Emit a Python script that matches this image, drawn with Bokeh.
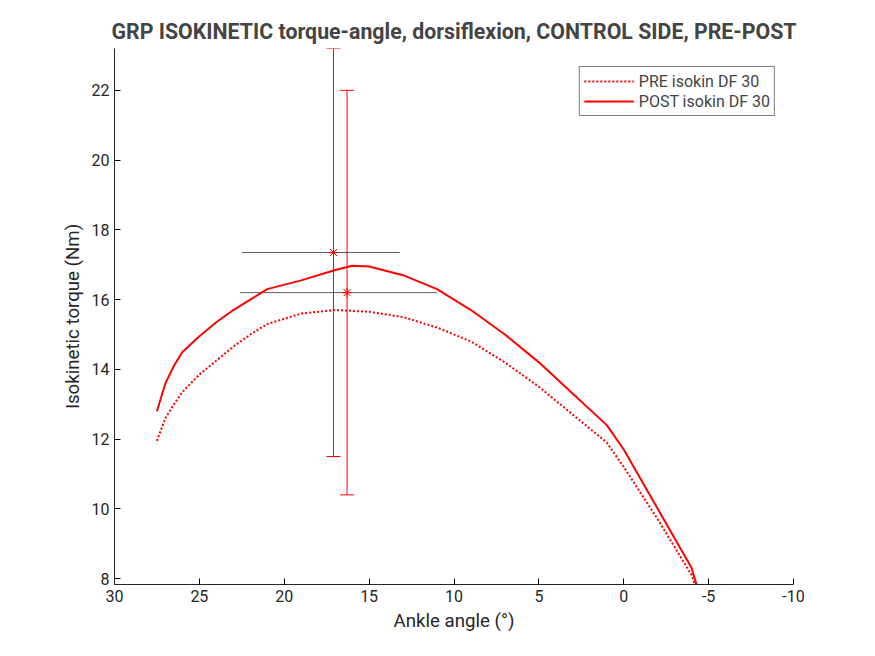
from bokeh.plotting import figure
from bokeh.models import Range1d, Whisker, ColumnDataSource, Legend, LegendItem, FixedTicker, TeeHead
from bokeh.embed import file_html
from bokeh.resources import INLINE

post_x = [27.5,27,26.5,26,25,24,23,22,21,19,17,16,15,13,11,9,7,5,3,1,0,-2,-4,-4.3]
post_y = [12.8,13.6,14.1,14.5,14.95,15.35,15.7,16.0,16.3,16.55,16.85,16.97,16.95,16.7,16.3,15.7,15.0,14.2,13.3,12.4,11.7,10.0,8.3,7.8]
pre_x = [27.5,27,26.5,26,25,24,23,22,21,19,17,15,13,11,9,7,5,3,1,0,-2,-4,-4.2]
pre_y = [11.95,12.6,13.0,13.35,13.85,14.25,14.65,15.0,15.3,15.6,15.7,15.65,15.5,15.2,14.8,14.2,13.5,12.7,11.9,11.2,9.7,8.1,7.8]
mx = [17.1, 16.3]
my = [17.35, 16.2]
y_lo = [11.5, 10.4]
y_hi = [23.2, 22.0]
x_lo = [22.5, 22.6]
x_hi = [13.2, 11.0]

p = figure(width=859, height=640, output_backend="svg", toolbar_location=None,
           x_range=Range1d(30, -10), y_range=Range1d(7.83, 23.2),
           min_border_left=114, min_border_right=66, min_border_top=48, min_border_bottom=56,
           title="GRP ISOKINETIC torque-angle, dorsiflexion, CONTROL SIDE, PRE-POST")
p.title.align = "center"
p.title.text_font = "Roboto"
p.title.text_font_size = "16pt"
p.title.text_font_style = "bold"
p.xgrid.visible = False
p.ygrid.visible = False
p.outline_line_color = None
p.xaxis.ticker = FixedTicker(ticks=[30,25,20,15,10,5,0,-5,-10])
p.xaxis.major_label_overrides = {-5: "-5", -10: "-10"}
p.yaxis.ticker = FixedTicker(ticks=[8,10,12,14,16,18,20,22])
for ax in (p.xaxis, p.yaxis):
    ax.major_label_text_font = "Roboto"
    ax.major_label_text_font_size = "12pt"
    ax.axis_label_text_font = "Roboto"
    ax.axis_label_text_font_size = "14pt"
    ax.axis_label_text_font_style = "normal"
    ax.major_tick_in = 6
    ax.major_tick_out = 0
    ax.minor_tick_line_color = None
    ax.axis_line_color = "#262626"
    ax.major_label_text_color = "#262626"
    ax.axis_label_text_color = "#262626"
p.xaxis.axis_label = "Ankle angle (°)"
p.yaxis.axis_label = "Isokinetic torque (Nm)"

r_pre = p.line(pre_x, pre_y, line_color="red", line_width=2, line_dash="2 2")
r_post = p.line(post_x, post_y, line_color="red", line_width=2)

src = ColumnDataSource(dict(x=mx, y=my, ylo=y_lo, yhi=y_hi, xlo=x_lo, xhi=x_hi))
p.add_layout(Whisker(source=src, base="x", lower="ylo", upper="yhi", line_color="red",
                     upper_head=TeeHead(size=14, line_color="red"), lower_head=TeeHead(size=14, line_color="red")))
p.add_layout(Whisker(source=src, base="y", lower="xlo", upper="xhi", dimension="width",
                     line_color="#333333", line_width=0.8, upper_head=None, lower_head=None))
p.scatter("x", "y", source=src, marker="asterisk", size=10, line_color="red")

leg = Legend(items=[LegendItem(label="PRE isokin DF 30", renderers=[r_pre]),
                    LegendItem(label="POST isokin DF 30", renderers=[r_post])],
             location="top_right", label_text_font="Roboto", label_text_font_size="12pt",
             border_line_color="black", spacing=0, padding=4, margin=18, glyph_width=50)
p.add_layout(leg)

open("out.html", "w").write(file_html(p, INLINE))
